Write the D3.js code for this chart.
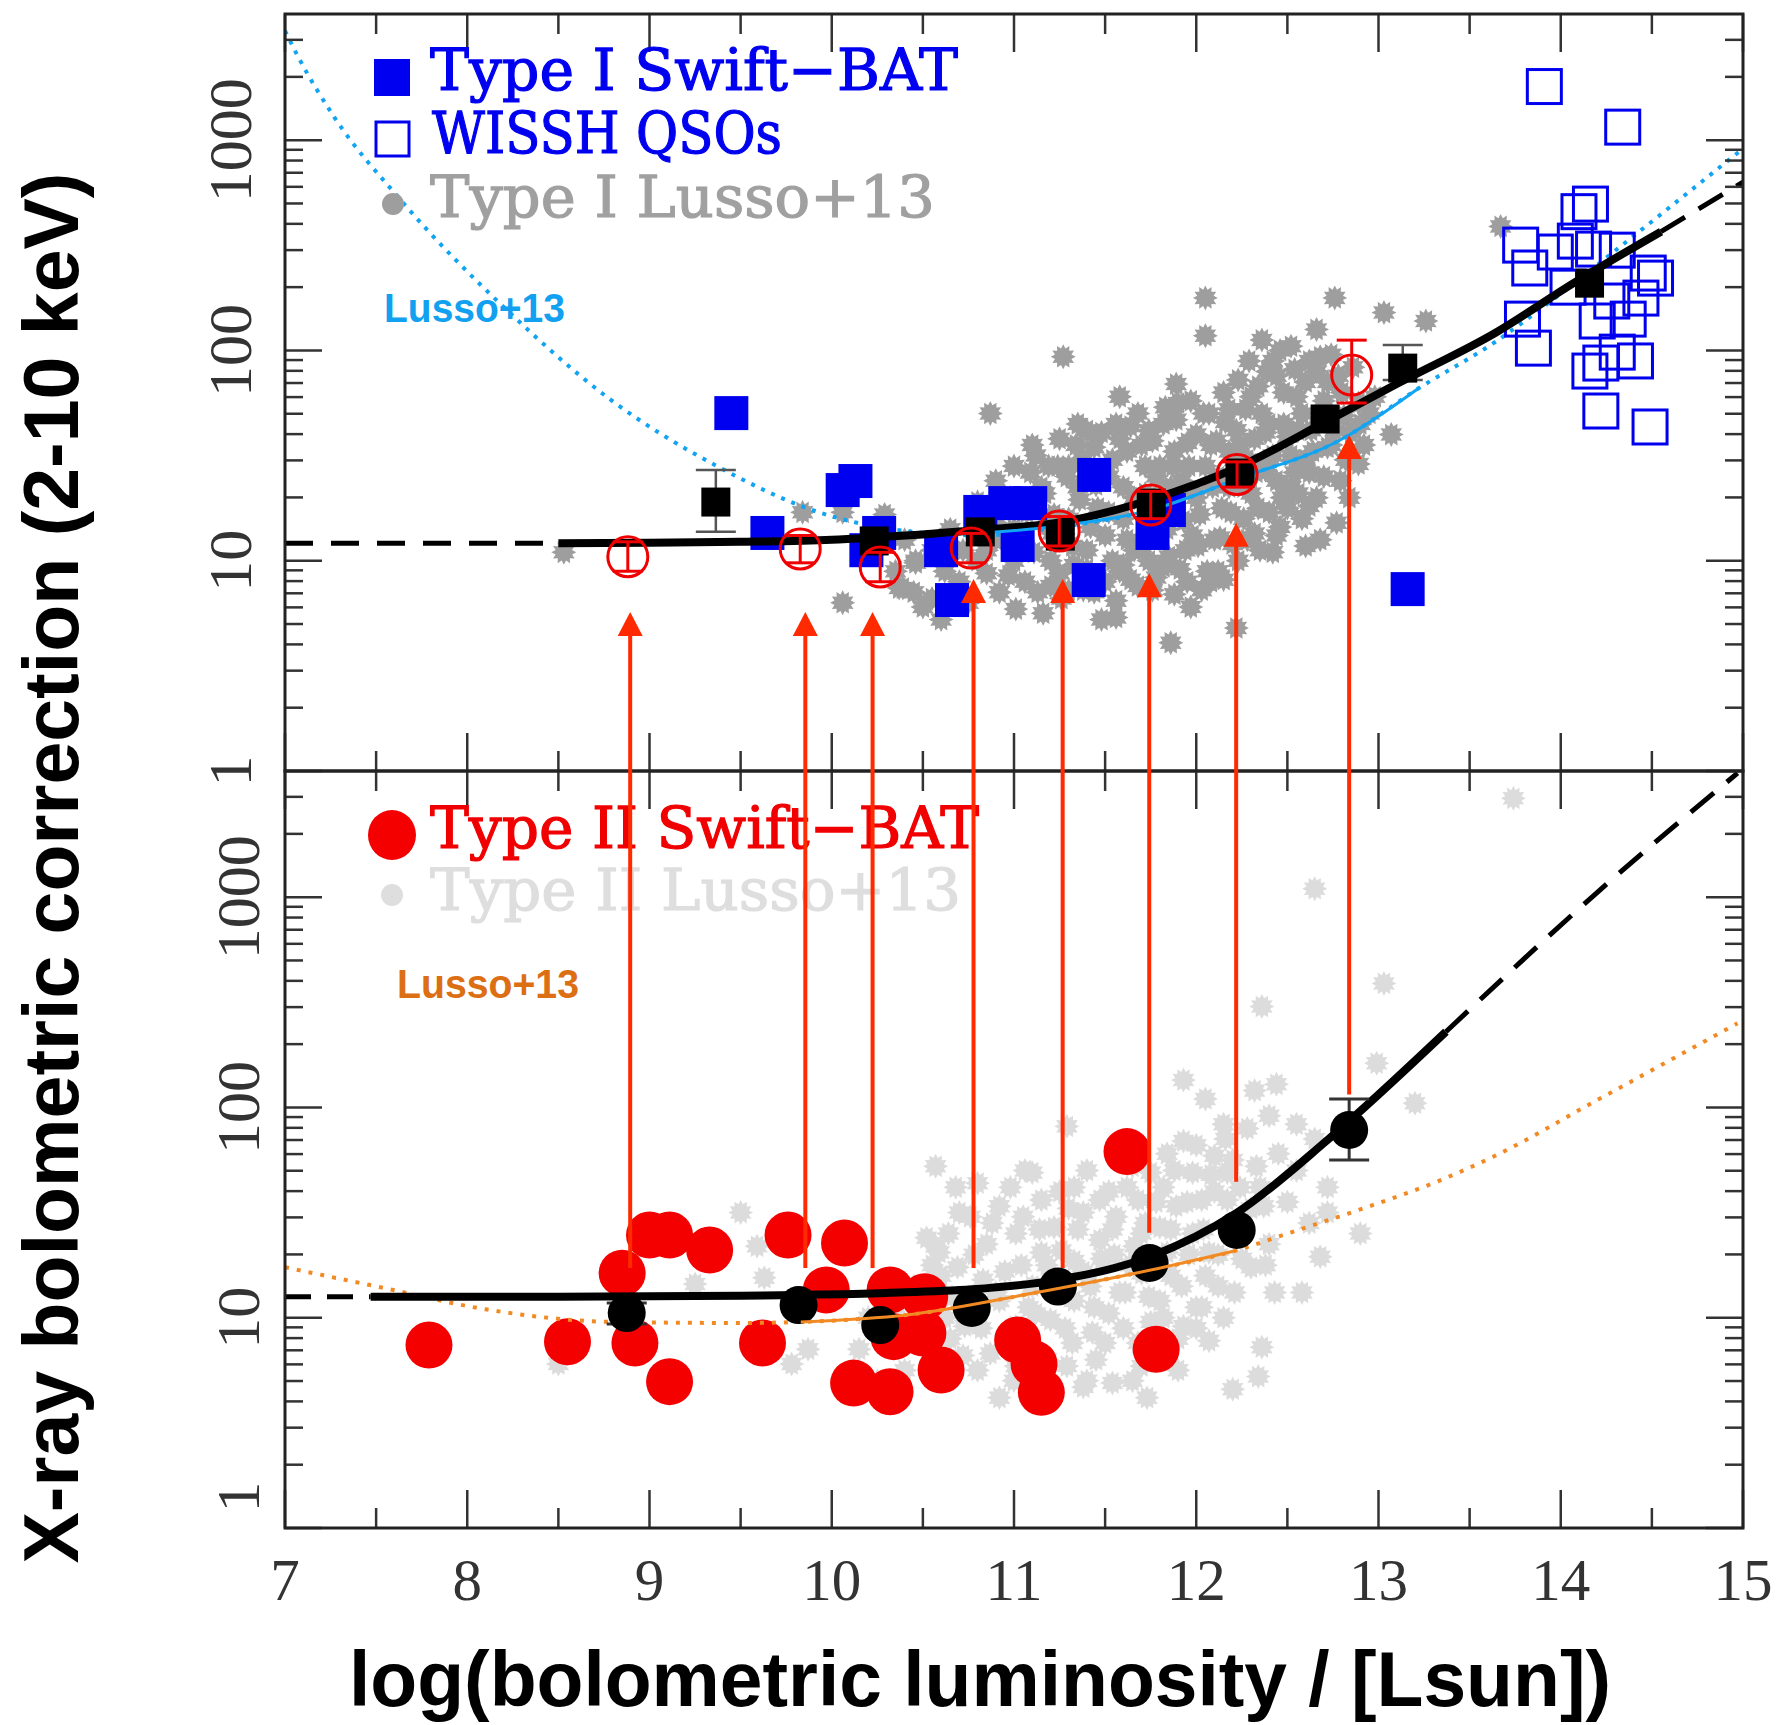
<!DOCTYPE html>
<html>
<head>
<meta charset="utf-8">
<script src="https://cdn.jsdelivr.net/npm/d3@7"></script>
<style>
  body { margin: 0; background: #fff; }
  svg { display: block; }
</style>
</head>
<body>
<div id="wrapper"></div>
<script>
// values
// x = log(Lbol / Lsun), y = log10(k_bol)

const xTickLabels = [7, 8, 9, 10, 11, 12, 13, 14, 15];
const yTickLabels = [1, 10, 100, 1000];

// ---------- upper panel (Type I) ----------
const typeILusso = [
  [12.05,2.25],[12.05,2.07],[12.76,2.25],[13.03,2.18],[13.26,2.14],[11.27,1.97],[10.87,1.70],[11.58,1.78],
  [11.89,1.84],[11.35,1.65],[11.25,1.58],[11.86,0.61],[12.22,0.68],[11.01,0.77],[11.13,0.85],[10.97,0.93],
  [11.56,0.73],[11.48,0.72],[10.39,0.87],[10.46,1.00],[10.85,0.94],[12.60,1.07],[13.07,1.60],[12.89,1.46],
  [12.77,1.18],[12.68,1.10],[13.67,2.59],[9.84,1.23],[10.06,1.23],[10.46,0.99],[10.37,0.87],[10.06,0.80],
  [8.53,1.04],[10.29,1.22],
  [11.09,1.42],[11.17,1.32],[11.07,1.23],[11.21,1.13],[11.11,1.04],[11.25,0.94],[11.19,1.45],
  [11.29,1.40],[11.36,1.29],[11.42,1.16],[11.32,1.07],[11.40,0.96],[11.44,0.85],[11.30,0.86],[11.44,1.54],
  [11.48,1.61],[11.54,1.48],[11.60,1.35],[11.52,1.23],[11.62,1.10],[11.54,1.00],[11.64,0.91],[11.56,0.81],[11.64,1.64],
  [11.68,1.70],[11.76,1.57],[11.80,1.45],[11.72,1.32],[11.78,1.19],[11.70,1.07],[11.82,0.97],[11.76,0.86],[11.83,1.73],
  [11.89,1.67],[11.95,1.56],[11.87,1.45],[11.99,1.32],[11.93,1.19],[12.01,1.07],[11.91,0.96],[12.03,0.86],[11.97,0.78],[11.97,1.76],
  [12.07,1.70],[12.15,1.80],[12.11,1.57],[12.21,1.48],[12.09,1.35],[12.19,1.23],[12.13,1.11],[12.23,1.00],[12.15,0.91],[12.23,1.86],
  [12.29,1.95],[12.36,2.05],[12.34,1.83],[12.27,1.72],[12.38,1.61],[12.30,1.32],[12.40,1.23],[12.32,1.13],[12.42,1.04],[12.38,1.43],
  [12.46,2.00],[12.54,1.91],[12.48,1.80],[12.58,1.70],[12.50,1.59],[12.60,1.48],[12.52,1.35],[12.62,1.26],[12.46,1.16],[12.66,2.10],
  [12.68,1.97],[12.78,1.88],[12.70,1.76],[12.81,1.69],[12.72,1.54],[12.85,1.61],[12.62,1.42],[12.79,1.38],[12.89,1.75],
  [11.15,1.35],[11.22,1.22],[11.28,1.10],[11.33,0.98],[11.38,1.48],[11.45,1.36],[11.50,1.12],[11.50,0.90],[11.58,1.58],
  [11.60,1.20],[11.66,1.05],[11.68,0.88],[11.72,1.45],[11.74,1.62],[11.80,1.30],[11.85,1.02],[11.88,1.52],[11.92,1.38],
  [11.95,0.90],[12.00,1.60],[12.02,1.22],[12.05,1.45],[12.10,1.10],[12.12,0.95],[12.16,1.66],[12.18,1.35],[12.24,1.55],
  [12.26,1.20],[12.30,1.78],[12.33,1.42],[12.35,1.05],[12.40,1.65],[12.44,1.88],[12.47,1.30],[12.52,1.50],[12.55,1.78],
  [12.58,1.20],[12.63,1.62],[12.66,1.90],[12.70,1.40],[12.74,1.55],[12.80,1.80],[12.84,1.30],[12.92,1.55],[12.95,1.70],
  [11.10,1.55],[11.05,1.08],[10.98,1.30],[10.90,1.18],[10.80,1.28],[10.72,1.05],[10.62,0.95],[10.55,0.82],
  [10.35,0.95],[10.45,0.85],[10.55,1.05],[10.50,0.78],[10.60,0.72],[10.70,0.90],[10.75,0.80],[10.40,1.10],
  [10.65,1.15],[10.90,1.10],[10.95,1.25],[10.80,1.00],[11.00,1.15],[11.10,1.30],[11.20,1.00],[11.30,1.20],
  [11.35,1.35],[11.00,1.45],[10.90,1.38],
  [11.12,1.50],[11.18,1.18],[11.24,1.45],[11.26,0.82],[11.34,1.55],[11.40,1.05],[11.46,1.25],[11.52,1.40],
  [11.56,1.65],[11.58,0.95],[11.62,1.52],[11.66,1.30],[11.70,1.55],[11.74,1.00],[11.78,1.40],[11.82,1.65],
  [11.84,1.15],[11.86,1.35],[11.90,1.75],[11.94,1.05],[11.96,1.45],[12.00,1.30],[12.04,1.70],[12.06,0.95],
  [12.08,1.55],[12.12,1.40],[12.14,1.25],[12.18,1.72],[12.20,1.08],[12.22,1.62],[12.26,1.35],[12.28,1.48],
  [12.32,1.58],[12.34,1.25],[12.36,1.70],[12.39,1.90],[12.42,1.50],[12.44,1.38],[12.48,1.65],[12.50,1.25],
  [12.54,1.42],[12.56,1.62],[12.60,1.85],[12.64,1.52],[12.68,1.68],[12.72,1.85],[12.76,1.62],[12.82,1.48],
  [12.86,1.92],[12.90,1.65],[12.98,1.78],[11.00,1.00],[10.92,0.85],[11.06,0.90],[11.20,0.88],[11.16,0.75],
  [10.85,1.05],[10.78,1.15],[10.68,0.82],[11.40,1.62],[11.30,1.45],
  [12.42,1.95],[12.52,2.02],[12.62,1.95],[12.74,1.98],[12.56,1.32],[12.66,1.30],[12.28,1.10],[12.44,1.12],
  [11.98,1.12],[12.08,0.90],[11.78,0.92],[11.88,0.84],[11.38,0.86],[11.60,0.98],[12.36,1.46],[12.18,1.52]
];

const typeIBat = [
  [9.449,1.702],[9.647,1.132],[10.06,1.336],[10.13,1.379],[10.19,1.05],[10.26,1.132],[10.60,1.05],[10.66,0.813],
  [10.815,1.232],[10.952,1.274],[11.089,1.274],[11.02,1.075],[11.44,1.408],[11.41,0.908],[11.76,1.132],[11.85,1.241],
  [13.16,0.865]
];

const wisshQsos = [
  [13.91,3.255],[14.34,3.062],[14.163,2.696],[14.10,2.660],[13.78,2.501],[13.83,2.392],[13.97,2.468],[14.08,2.520],
  [14.18,2.482],[14.31,2.477],[14.04,2.301],[14.48,2.368],[14.52,2.344],[14.44,2.249],[14.28,2.235],[14.37,2.149],
  [13.79,2.149],[13.85,2.011],[14.20,2.140],[14.31,1.992],[14.41,1.950],[14.22,1.940],[14.16,1.902],[14.22,1.712],
  [14.49,1.636]
];

// binned Type I Swift-BAT averages: [logL, logK, errLow, errHigh]
const typeIBins = [
  [9.364,1.279,1.138,1.431],[10.233,1.094],[10.815,1.137],[11.254,1.117],[11.753,1.274],
  [12.24,1.417],[12.707,1.674],[13.133,1.916,1.86,2.026],[14.158,2.320]
];

// binned Type II values shown in the upper panel: [logL, logK, errLow, errHigh]
const typeIIBinsUpper = [
  [8.881,1.019,0.95,1.09],[9.827,1.056,0.99,1.12],[10.266,0.970,0.90,1.04],[10.765,1.060,0.99,1.13],
  [11.248,1.141,1.07,1.21],[11.750,1.265,1.20,1.33],[12.224,1.410,1.35,1.47],[12.853,1.883,1.750,2.049]
];

const typeIFit = [
  [8.5,1.083],[9.0,1.086],[9.5,1.090],[10.0,1.100],[10.27,1.113],[10.5,1.125],[10.8,1.146],[11.25,1.182],
  [11.75,1.29],[12.23,1.445],[12.72,1.665],[13.11,1.845],[13.64,2.083],[14.07,2.32],[14.55,2.565]
];
const typeIFitLeft = [[7.0,1.083],[8.5,1.083]];
const typeIFitRight = [[14.55,2.565],[15.0,2.80]];

const lussoTypeI = [
  [7.0,3.52],[7.07,3.40],[7.27,3.11],[7.63,2.72],[8.22,2.19],[8.78,1.77],[9.37,1.45],[9.93,1.23],
  [10.54,1.13],[10.82,1.12],[11.25,1.16],[11.75,1.24],[12.23,1.39],[12.79,1.574],[13.22,1.82],
  [13.64,2.04],[14.0,2.27],[14.35,2.51],[14.77,2.80],[15.0,2.96]
];
const lussoTypeISolid = [
  [10.8,1.13],[11.25,1.165],[11.75,1.241],[12.23,1.39],[12.79,1.574],[13.22,1.82]
];

// ---------- lower panel (Type II) ----------
const typeIILusso = [
  [12.36,2.48],[12.99,2.21],[13.20,2.02],[12.44,2.11],[11.93,2.13],[12.05,2.04],[12.32,2.08],[12.40,1.96],
  [12.55,1.92],[12.15,1.92],[10.57,1.72],[11.10,1.69],[11.29,1.91],[10.80,1.64],[12.90,1.40],[12.68,1.29],
  [12.58,1.12],[12.43,1.12],[12.36,0.86],[12.34,0.72],[12.20,0.66],[12.72,1.62],[12.72,1.50],[11.54,0.69],
  [11.73,0.62],[10.92,0.62],[9.50,1.50],[9.59,1.34],[9.63,1.19],[9.25,1.16],[8.50,0.78],[9.78,0.78],
  [9.87,0.85],[10.57,1.34],[10.62,1.00],[10.76,1.08],[13.74,3.47],[12.65,3.04],[13.03,2.59],
  [10.64,1.40],[10.59,1.31],[10.76,1.48],[10.92,1.53],[11.01,1.40],[11.15,1.56],[11.22,1.43],[11.33,1.62],
  [11.38,1.50],[11.47,1.56],[11.56,1.48],[11.68,1.56],[11.75,1.69],[11.84,1.78],[11.93,1.84],[11.98,1.69],
  [12.10,1.77],[12.17,1.69],[12.03,1.56],[11.89,1.53],[11.80,1.43],[12.17,1.56],
  [10.69,1.24],[10.83,1.18],[10.92,1.08],[11.01,0.96],[11.10,0.86],[11.20,0.99],[11.33,1.08],[11.43,0.93],
  [11.52,1.02],[11.61,1.12],[11.70,1.21],[11.80,1.08],[11.93,0.96],[12.03,1.05],[12.12,1.15],[12.21,1.12],
  [12.07,0.89],[11.84,0.83],[11.70,0.77],[11.29,0.77],[11.38,0.67],[11.01,0.77],[10.87,0.83],[10.73,0.96],
  [11.15,1.31],[11.33,1.27],[11.47,1.37],[11.66,1.34],[11.84,1.31],[11.98,1.40],[12.07,1.31],[11.10,1.15],
  [11.24,1.18],[12.26,1.40],[12.30,1.24],[12.37,1.53],
  [10.45,1.15],[10.50,0.90],[10.55,1.25],[10.40,0.75],[10.35,1.05],[10.30,0.90],[10.25,0.70],[10.20,1.00],[10.15,0.85],
  [10.70,1.50],[10.75,1.10],[10.85,1.35],[10.95,1.22],[11.05,1.48],[11.08,1.05],[11.18,1.25],[11.25,1.60],
  [11.28,0.95],[11.35,1.42],[11.42,1.15],[11.45,0.80],[11.52,1.60],[11.55,1.30],[11.60,0.95],[11.65,1.72],
  [11.72,1.45],[11.75,0.98],[11.82,1.62],[11.86,1.20],[11.90,0.90],[11.95,1.55],[12.00,1.82],[12.05,1.20],
  [12.10,1.60],[12.15,1.00],[12.20,1.75],[12.25,1.28],[12.28,1.90],[12.35,1.62],[12.40,1.35],[12.45,1.78],
  [12.50,1.55],[12.55,1.70],[12.62,1.45],[12.65,1.85],[10.60,1.20],[10.65,0.90],[10.80,0.75],[11.00,0.70],
  [11.20,0.65],[11.40,0.70],[11.65,0.70],[11.90,0.75],[12.00,0.95],
  [10.48,1.05],[10.52,1.38],[10.58,0.98],[10.66,1.10],[10.68,1.62],[10.72,0.82],[10.78,1.30],[10.82,0.95],
  [10.88,1.45],[10.90,1.12],[10.96,0.88],[10.98,1.62],[11.04,1.25],[11.06,1.70],[11.12,1.02],[11.14,1.42],
  [11.18,0.80],[11.22,1.12],[11.26,1.32],[11.30,1.52],[11.32,0.88],[11.38,1.22],[11.40,1.70],[11.44,1.05],
  [11.48,1.28],[11.50,0.88],[11.54,1.42],[11.58,1.12],[11.62,1.62],[11.64,1.25],[11.68,0.88],[11.70,1.40],
  [11.74,1.10],[11.78,1.55],[11.82,1.00],[11.86,1.42],[11.88,1.70],[11.92,1.15],[11.96,1.30],[12.00,1.05],
  [12.04,1.42],[12.08,1.68],[12.12,1.30],[12.16,1.85],[12.20,1.45],[12.24,1.62],[12.30,1.52],[12.33,1.72],
  [12.38,1.25]
];

const typeIIBat = [
  [7.79,0.870],[8.55,0.886],[8.85,1.212],[8.92,0.880],[9.00,1.393],[9.11,1.393],[9.33,1.322],[9.11,0.696],
  [9.76,1.393],[10.07,1.355],[9.62,0.880],[9.97,1.132],[10.12,0.689],[10.32,0.648],[10.32,1.132],[10.51,1.100],
  [10.34,0.910],[10.50,0.927],[10.60,0.751],[11.02,0.894],[11.11,0.78],[11.15,0.645],[11.62,1.79],[11.78,0.85]
];

const typeIIBins = [
  [8.875,1.022,0.97,1.07],[9.818,1.060],[10.266,0.965],[10.768,1.046],[11.241,1.148],
  [11.744,1.260],[12.222,1.417],[12.839,1.893,1.750,2.040]
];

const typeIIFit = [
  [7.47,1.10],[8.5,1.10],[9.5,1.104],[9.78,1.108],[10.3,1.118],[10.77,1.135],[11.24,1.18],
  [11.75,1.291],[12.22,1.497],[12.72,1.845],[13.37,2.36]
];
const typeIIFitLeft = [[7.0,1.10],[7.47,1.10]];
const typeIIFitRight = [[13.37,2.36],[14.21,3.03],[14.97,3.59]];

const lussoTypeII = [
  [7.0,1.24],[7.55,1.14],[8.1,1.04],[8.8,0.98],[9.5,0.975],[9.83,0.98],[10.41,1.013],[11.1,1.116],
  [11.75,1.227],[12.22,1.32],[12.5,1.40],[12.95,1.53],[13.3,1.64],[13.64,1.77],[14.21,2.04],[14.97,2.40]
];
const lussoTypeIISolid = [[9.83,0.98],[10.41,1.013],[11.1,1.116],[11.75,1.227],[12.22,1.32]];

// arrows: [logL, logK in lower panel (start), logK in upper panel (tip)]
const arrows = [
  [8.894,1.236,0.756],[9.855,1.236,0.756],[10.224,1.236,0.756],[10.778,1.236,0.913],
  [11.267,1.236,0.913],[11.742,1.404,0.940],[12.219,1.647,1.181],[12.839,2.062,1.598]
];

// ---------- drawing ----------

const k = v => Math.pow(10, v);

const dms = { width: 1788, height: 1725, left: 285, right: 1743, top: 14, mid: 771, bottom: 1528 };

const xScale = d3.scaleLinear().domain([7, 15]).range([dms.left, dms.right]);
const yUpper = d3.scaleLog().domain([1, k(3.6)]).range([dms.mid, dms.top]);
const yLower = d3.scaleLog().domain([1, k(3.6)]).range([dms.bottom, dms.mid]);

const svg = d3.select("#wrapper")
  .append("svg")
    .attr("width", dms.width)
    .attr("height", dms.height);

const defs = svg.append("defs");
defs.append("clipPath").attr("id", "clipUpper")
  .append("rect").attr("x", dms.left).attr("y", dms.top)
  .attr("width", dms.right - dms.left).attr("height", dms.mid - dms.top);
defs.append("clipPath").attr("id", "clipLower")
  .append("rect").attr("x", dms.left).attr("y", dms.mid)
  .attr("width", dms.right - dms.left).attr("height", dms.bottom - dms.mid);

// gear-like asterisk used for the Lusso+13 points
function starPath(r1, r2, n) {
  const p = d3.path();
  for (let i = 0; i < 2 * n; i++) {
    const r = i % 2 ? r2 : r1;
    const a = Math.PI * i / n;
    if (i === 0) p.moveTo(r * Math.sin(a), -r * Math.cos(a));
    else p.lineTo(r * Math.sin(a), -r * Math.cos(a));
  }
  p.closePath();
  return p.toString();
}
const star = starPath(12.5, 8.5, 12);

function lineGen(yScale) {
  return d3.line()
    .x(d => xScale(d[0]))
    .y(d => yScale(k(d[1])))
    .curve(d3.curveMonotoneX);
}

function drawCurve(g, data, yScale, color, width, dash) {
  g.append("path")
    .datum(data)
    .attr("d", lineGen(yScale))
    .attr("fill", "none")
    .attr("stroke", color)
    .attr("stroke-width", width)
    .attr("stroke-dasharray", dash || null);
}

function drawErrorBars(g, data, yScale, color, width, cap) {
  const withErr = data.filter(d => d.length > 2);
  const eg = g.append("g").attr("stroke", color).attr("stroke-width", width);
  withErr.forEach(d => {
    const x = xScale(d[0]);
    const y0 = yScale(k(d[2])), y1 = yScale(k(d[3]));
    eg.append("line").attr("x1", x).attr("x2", x).attr("y1", y0).attr("y2", y1);
    eg.append("line").attr("x1", x - cap / 2).attr("x2", x + cap / 2).attr("y1", y0).attr("y2", y0);
    eg.append("line").attr("x1", x - cap / 2).attr("x2", x + cap / 2).attr("y1", y1).attr("y2", y1);
  });
}

// ----- upper panel content -----
const upper = svg.append("g").attr("clip-path", "url(#clipUpper)");

upper.append("g").selectAll("path")
  .data(typeILusso)
  .join("path")
    .attr("d", star)
    .attr("transform", d => `translate(${xScale(d[0])},${yUpper(k(d[1]))})`)
    .attr("fill", "#9e9e9e");

drawCurve(upper, lussoTypeI, yUpper, "#12a4f2", 4, "4 7");

const sqB = 34;
upper.append("g").selectAll("rect")
  .data(typeIBat)
  .join("rect")
    .attr("x", d => xScale(d[0]) - sqB / 2)
    .attr("y", d => yUpper(k(d[1])) - sqB / 2)
    .attr("width", sqB).attr("height", sqB)
    .attr("fill", "#0000f0");

const sqW = 34;
upper.append("g").selectAll("rect")
  .data(wisshQsos)
  .join("rect")
    .attr("x", d => xScale(d[0]) - sqW / 2)
    .attr("y", d => yUpper(k(d[1])) - sqW / 2)
    .attr("width", sqW).attr("height", sqW)
    .attr("fill", "none")
    .attr("stroke", "#0000ee")
    .attr("stroke-width", 3);

drawCurve(upper, typeIFitLeft, yUpper, "#000", 5, "28 18");
drawCurve(upper, typeIFitRight, yUpper, "#000", 5, "28 16");
drawCurve(upper, typeIFit, yUpper, "#000", 8);
drawCurve(upper, lussoTypeISolid, yUpper, "#12a4f2", 3);

drawErrorBars(upper, typeIBins, yUpper, "#555", 2.5, 40);
const sqK = 29;
upper.append("g").selectAll("rect")
  .data(typeIBins)
  .join("rect")
    .attr("x", d => xScale(d[0]) - sqK / 2)
    .attr("y", d => yUpper(k(d[1])) - sqK / 2)
    .attr("width", sqK).attr("height", sqK)
    .attr("fill", "#000");

upper.append("g").selectAll("circle")
  .data(typeIIBinsUpper)
  .join("circle")
    .attr("cx", d => xScale(d[0]))
    .attr("cy", d => yUpper(k(d[1])))
    .attr("r", 20)
    .attr("fill", "none")
    .attr("stroke", "#f00000")
    .attr("stroke-width", 3);
drawErrorBars(upper, typeIIBinsUpper, yUpper, "#f00000", 3, 30);

// ----- lower panel content -----
const lower = svg.append("g").attr("clip-path", "url(#clipLower)");

lower.append("g").selectAll("path")
  .data(typeIILusso)
  .join("path")
    .attr("d", star)
    .attr("transform", d => `translate(${xScale(d[0])},${yLower(k(d[1]))})`)
    .attr("fill", "#dcdcdc");

lower.append("g").selectAll("circle")
  .data(typeIIBat)
  .join("circle")
    .attr("cx", d => xScale(d[0]))
    .attr("cy", d => yLower(k(d[1])))
    .attr("r", 23.5)
    .attr("fill", "#f50000");

drawCurve(lower, lussoTypeII, yLower, "#f28a24", 4, "4 8");
drawCurve(lower, typeIIFitLeft, yLower, "#000", 5, "26 16");
drawCurve(lower, typeIIFitRight, yLower, "#000", 5, "30 17");
drawCurve(lower, typeIIFit, yLower, "#000", 8);

drawErrorBars(lower, typeIIBins, yLower, "#333", 3, 40);
lower.append("g").selectAll("circle")
  .data(typeIIBins)
  .join("circle")
    .attr("cx", d => xScale(d[0]))
    .attr("cy", d => yLower(k(d[1])))
    .attr("r", 19)
    .attr("fill", "#000");

drawCurve(lower, lussoTypeIISolid, yLower, "#f28a24", 3);

// ----- frames, ticks, tick labels -----
function drawFrame(yScale, top, bottom, labelX, isLower) {
  const g = svg.append("g").attr("stroke", "#333").attr("stroke-width", 2.5);
  const xTicks = d3.range(7, 15.001, 0.5);
  xTicks.forEach(t => {
    const len = Number.isInteger(t) ? 38 : 20;
    const x = xScale(t);
    g.append("line").attr("x1", x).attr("x2", x).attr("y1", top).attr("y2", top + len);
    g.append("line").attr("x1", x).attr("x2", x).attr("y1", bottom).attr("y2", bottom - len);
  });
  yScale.ticks().forEach(t => {
    const major = Math.abs(Math.log10(t) - Math.round(Math.log10(t))) < 1e-9;
    const len = major ? 37 : 18;
    const y = yScale(t);
    g.append("line").attr("x1", dms.left).attr("x2", dms.left + len).attr("y1", y).attr("y2", y);
    g.append("line").attr("x1", dms.right).attr("x2", dms.right - len).attr("y1", y).attr("y2", y);
  });
  svg.append("rect")
    .attr("x", dms.left).attr("y", top)
    .attr("width", dms.right - dms.left).attr("height", bottom - top)
    .attr("fill", "none")
    .attr("stroke", "#222")
    .attr("stroke-width", 3);

  svg.append("g").selectAll("text")
    .data(yTickLabels)
    .join("text")
      .attr("transform", d => {
        let y = yScale(d);
        if (isLower && d === 1) y -= 31;
        return `translate(${labelX},${y}) rotate(-90)`;
      })
      .attr("text-anchor", "middle")
      .style("font-family", "'Liberation Serif', serif")
      .style("font-size", "62px")
      .attr("fill", "#333")
      .text(d => d);
}

drawFrame(yUpper, dms.top, dms.mid, 251, false);
drawFrame(yLower, dms.mid, dms.bottom, 259, true);

svg.append("g").selectAll("text")
  .data(xTickLabels)
  .join("text")
    .attr("x", d => xScale(d))
    .attr("y", 1600)
    .attr("text-anchor", "middle")
    .style("font-family", "'Liberation Serif', serif")
    .style("font-size", "59px")
    .attr("fill", "#333")
    .text(d => d);

// ----- legends -----
const legendFont = "'DejaVu Serif', serif";
function legendText(x, y, str, color, len) {
  svg.append("text")
    .attr("x", x).attr("y", y)
    .attr("textLength", len)
    .attr("lengthAdjust", "spacingAndGlyphs")
    .style("font-family", legendFont)
    .style("font-size", "58px")
    .attr("fill", color)
    .attr("stroke", color)
    .attr("stroke-width", 1.2)
    .text(str);
}

svg.append("rect").attr("x", 374).attr("y", 59).attr("width", 36).attr("height", 37).attr("fill", "#0000f0");
legendText(430, 90, "Type I Swift\u2212BAT", "#0000f0", 528);
svg.append("rect").attr("x", 376).attr("y", 122).attr("width", 33).attr("height", 34)
  .attr("fill", "none").attr("stroke", "#0000ee").attr("stroke-width", 3);
legendText(432, 153, "WISSH QSOs", "#0000f0", 350);
svg.append("circle").attr("cx", 393).attr("cy", 204).attr("r", 11).attr("fill", "#9e9e9e");
legendText(430, 217, "Type I Lusso+13", "#a0a0a0", 505);

svg.append("ellipse").attr("cx", 392).attr("cy", 835).attr("rx", 24).attr("ry", 25).attr("fill", "#f50000");
legendText(430, 848, "Type II Swift\u2212BAT", "#f00000", 549);
svg.append("circle").attr("cx", 392).attr("cy", 895).attr("r", 11).attr("fill", "#dedede");
legendText(430, 910, "Type II Lusso+13", "#dedede", 531);

svg.append("text")
  .attr("x", 384).attr("y", 322)
  .attr("textLength", 181).attr("lengthAdjust", "spacingAndGlyphs")
  .style("font-family", "'Liberation Sans', Arial, sans-serif")
  .style("font-weight", "bold")
  .style("font-size", "40px")
  .attr("fill", "#12a0f0")
  .text("Lusso+13");

svg.append("text")
  .attr("x", 397).attr("y", 998)
  .attr("textLength", 182).attr("lengthAdjust", "spacingAndGlyphs")
  .style("font-family", "'Liberation Sans', Arial, sans-serif")
  .style("font-weight", "bold")
  .style("font-size", "40px")
  .attr("fill", "#dc6e14")
  .text("Lusso+13");

// ----- arrows (drawn across both panels) -----
const headLen = 24, headW = 25;
const arrowG = svg.append("g");
arrows.forEach(d => {
  const x = xScale(d[0]);
  const y0 = yLower(k(d[1]));
  const tip = yUpper(k(d[2]));
  arrowG.append("line")
    .attr("x1", x).attr("x2", x)
    .attr("y1", y0).attr("y2", tip + headLen - 2)
    .attr("stroke", "#ff2a00")
    .attr("stroke-width", 4);
  arrowG.append("path")
    .attr("d", `M${x},${tip} L${x - headW / 2},${tip + headLen} L${x + headW / 2},${tip + headLen} Z`)
    .attr("fill", "#ff2a00");
});

// ----- axis titles -----
svg.append("text")
  .attr("x", 980).attr("y", 1706)
  .attr("text-anchor", "middle")
  .attr("textLength", 1262).attr("lengthAdjust", "spacingAndGlyphs")
  .style("font-family", "'Liberation Sans', Arial, sans-serif")
  .style("font-weight", "bold")
  .style("font-size", "77px")
  .attr("fill", "#000")
  .text("log(bolometric luminosity / [Lsun])");

svg.append("text")
  .attr("transform", "translate(78,868) rotate(-90)")
  .attr("text-anchor", "middle")
  .attr("textLength", 1391).attr("lengthAdjust", "spacingAndGlyphs")
  .style("font-family", "'Liberation Sans', Arial, sans-serif")
  .style("font-weight", "bold")
  .style("font-size", "77px")
  .attr("fill", "#000")
  .text("X-ray bolometric correction (2-10 keV)");
</script>
</body>
</html>
